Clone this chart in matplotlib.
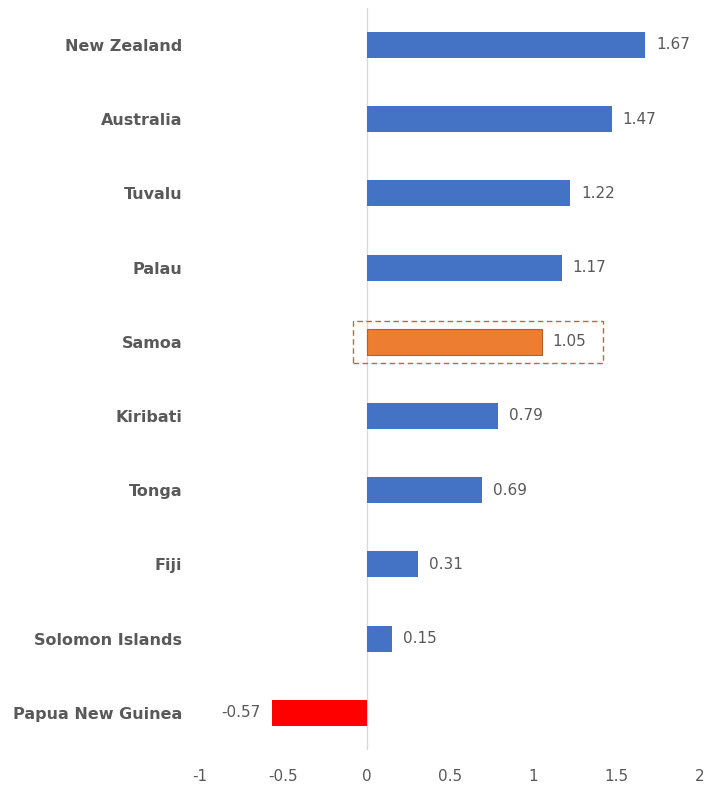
import matplotlib.pyplot as plt
from matplotlib.patches import Rectangle

# data
countries = ['New Zealand', 'Australia', 'Tuvalu', 'Palau', 'Samoa',
             'Kiribati', 'Tonga', 'Fiji', 'Solomon Islands', 'Papua New Guinea']
values = [1.67, 1.47, 1.22, 1.17, 1.05, 0.79, 0.69, 0.31, 0.15, -0.57]
highlight = 'Samoa'

blue = '#4472C4'
orange = '#ED7D31'
red = '#FF0000'
grey_txt = '#595959'

plt.rcParams['font.family'] = ['DejaVu Sans']

fig = plt.figure(figsize=(7.07, 7.86), dpi=100)
ax = fig.add_axes([0.283, 0.046, 0.707, 0.944])

ypos = list(range(len(countries)))[::-1]
colors = []
for c, v in zip(countries, values):
    if c == highlight:
        colors.append(orange)
    elif v < 0:
        colors.append(red)
    else:
        colors.append(blue)

bars = ax.barh(ypos, values, height=0.35, color=colors, zorder=2)
for b, c in zip(bars, countries):
    if c == highlight:
        b.set_edgecolor('#B85F22')
        b.set_linewidth(0.8)

# value labels
for y, v in zip(ypos, values):
    if v >= 0:
        ax.annotate(f'{v:.2f}', (v, y), xytext=(8, 0), textcoords='offset points',
                    ha='left', va='center', fontsize=11, color=grey_txt)
    else:
        ax.annotate(f'{v:.2f}', (v, y), xytext=(-8, 0), textcoords='offset points',
                    ha='right', va='center', fontsize=11, color=grey_txt)

# dashed box around highlighted country
hy = ypos[countries.index(highlight)]
ax.add_patch(Rectangle((-0.085, hy - 0.28), 1.505, 0.56, fill=False,
                       edgecolor='#C0692A', linestyle=(0, (4, 2.5)), linewidth=1.0,
                       zorder=3, clip_on=False))

ax.axvline(0, color='#D9D9D9', linewidth=1, zorder=1)

ax.set_xlim(-1, 2)
ax.set_ylim(-0.5, len(countries) - 0.5)
ax.set_xticks([-1, -0.5, 0, 0.5, 1, 1.5, 2])
ax.set_xticklabels(['-1', '-0.5', '0', '0.5', '1', '1.5', '2'])
ax.set_yticks(ypos)
ax.set_yticklabels(countries, fontweight='bold', fontsize=11.5)
ax.tick_params(axis='both', length=0, colors=grey_txt)
ax.tick_params(axis='x', labelsize=11, pad=14)
ax.tick_params(axis='y', pad=13)
for s in ax.spines.values():
    s.set_visible(False)

fig.savefig('out.png', dpi=100)
